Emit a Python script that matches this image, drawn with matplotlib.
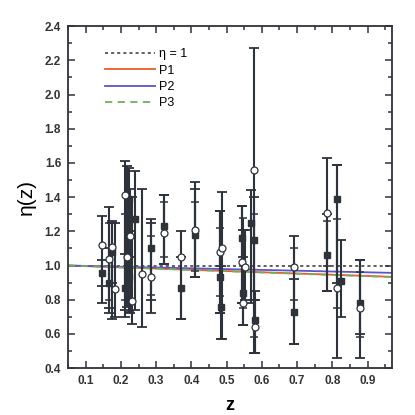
import matplotlib
matplotlib.use("Agg")
import matplotlib.pyplot as plt
from matplotlib.ticker import MultipleLocator
import numpy as np

# ── data ────────────────────────────────────────────────────────────────────
# open circles: z, eta, lower end, upper end of bar
circ_z  = [0.145, 0.166, 0.174, 0.182, 0.211, 0.218, 0.225, 0.232, 0.260, 0.285,
           0.321, 0.370, 0.410, 0.481, 0.486, 0.543, 0.547, 0.553, 0.578, 0.580,
           0.690, 0.785, 0.812, 0.880]
circ_v  = [1.12, 1.04, 1.11, 0.86, 1.41, 1.05, 1.17, 0.79, 0.95, 0.93,
           1.19, 1.05, 1.21, 1.08, 1.10, 1.02, 0.78, 0.99, 1.56, 0.64,
           0.99, 1.31, 0.87, 0.75]
circ_lo = [0.78, 0.72, 0.69, 0.70, 0.74, 0.76, 0.72, 0.66, 0.64, 0.72,
           1.01, 0.69, 0.93, 0.72, 0.57, 0.78, 0.65, 0.80, 0.49, 0.49,
           0.54, 0.85, 0.46, 0.46]
circ_hi = [1.29, 1.34, 1.26, 1.25, 1.61, 1.58, 1.45, 1.40, 1.45, 1.27,
           1.41, 1.20, 1.49, 1.32, 1.43, 1.35, 1.21, 1.21, 2.27, 0.80,
           1.17, 1.63, 1.59, 1.03]

# filled squares
sq_z  = [0.145, 0.167, 0.175, 0.213, 0.222, 0.224, 0.240, 0.285, 0.321, 0.370,
         0.410, 0.480, 0.483, 0.543, 0.547, 0.570, 0.578, 0.580, 0.690, 0.785,
         0.812, 0.825, 0.880]
sq_v  = [0.955, 0.90, 1.08, 0.87, 1.39, 0.93, 1.27, 1.10, 1.23, 0.87,
         1.18, 0.93, 0.76, 1.16, 0.84, 1.25, 1.15, 0.68, 0.73, 1.06,
         1.39, 0.91, 0.78]
sq_lo = [0.88, 0.75, 0.90, 0.70, 1.05, 0.73, 0.74, 0.80, 1.01, 0.69,
         0.93, 0.72, 0.57, 0.78, 0.65, 0.78, 0.80, 0.49, 0.54, 0.85,
         0.90, 0.70, 0.60]
sq_hi = [1.03, 1.10, 1.25, 1.07, 1.57, 1.20, 1.55, 1.25, 1.41, 1.05,
         1.45, 1.32, 1.00, 1.35, 1.05, 1.44, 1.40, 0.85, 0.92, 1.30,
         1.59, 1.15, 1.03]

# inner (statistical) error caps
inner_z  = [0.166, 0.213, 0.224, 0.285, 0.321, 0.410, 0.480, 0.547, 0.578,
            0.690, 0.785, 0.812, 0.880]
inner_lo = [0.80, 0.80, 0.82, 0.83, 1.05, 0.97, 0.82, 0.75, 0.58,
            0.80, 1.00, 0.75, 0.58]
inner_hi = [1.25, 1.30, 1.40, 1.17, 1.37, 1.37, 1.22, 1.28, 1.30,
            1.10, 1.26, 1.27, 0.96]

# model lines (end points)
line_z = [0.05, 0.97]
eta1   = [1.0, 1.0]
p1     = [1.0, 0.934]
p2     = [1.0, 0.957]
p3     = [1.0, 0.932]

# ── figure ──────────────────────────────────────────────────────────────────
plt.rcParams["font.family"] = ["Liberation Sans", "DejaVu Sans"]
fig = plt.figure(figsize=(4.15, 4.15), dpi=100)
ax = fig.add_axes([0.164, 0.113, 0.781, 0.824])

dark = "#2e323b"

def draw(z, v, lo, hi, **kw):
    z = np.array(z); v = np.array(v)
    err = [v - np.array(lo), np.array(hi) - v]
    ax.errorbar(z, v, yerr=err, fmt="none", ecolor=dark, elinewidth=1.5,
                capsize=3.4, capthick=1.3, zorder=3)
    ax.plot(z, v, linestyle="none", zorder=4, **kw)

draw(sq_z, sq_v, sq_lo, sq_hi, marker="s", ms=3.8, mfc=dark, mec=dark)
draw(circ_z, circ_v, circ_lo, circ_hi, marker="o", ms=5, mfc="white",
     mec=dark, mew=0.9)

# inner caps
mid = (np.array(inner_lo) + np.array(inner_hi)) / 2
ax.errorbar(inner_z, mid, yerr=[mid - np.array(inner_lo), np.array(inner_hi) - mid],
            fmt="none", ecolor=dark, elinewidth=1.5, capsize=3.0, capthick=1.1,
            zorder=3)

ax.plot(line_z, eta1, color="#333333", ls=(0, (2, 2)), lw=1.1,
        label="η = 1", zorder=2)
ax.plot(line_z, p1, color="#f05a28", lw=1.3, label="P1", zorder=2)
ax.plot(line_z, p2, color="#5a55c8", lw=1.3, label="P2", zorder=2)
ax.plot(line_z, p3, color="#70b060", lw=1.3, ls=(0, (4, 3)), label="P3",
        zorder=2)

ax.set_xlim(0.05, 0.97)
ax.set_ylim(0.4, 2.4)
ax.xaxis.set_major_locator(MultipleLocator(0.1))
ax.xaxis.set_minor_locator(MultipleLocator(0.05))
ax.yaxis.set_major_locator(MultipleLocator(0.2))
ax.yaxis.set_minor_locator(MultipleLocator(0.1))
ax.tick_params(which="both", direction="in", top=True, right=True,
               colors=dark, labelcolor="#333333", width=1.1)
ax.tick_params(which="major", length=5, labelsize=8.5, pad=5)
ax.tick_params(which="minor", length=3)
ax.set_xticks(np.arange(0.1, 0.95, 0.1))
ax.set_xticklabels([f"{t:.1f}" for t in np.arange(0.1, 0.95, 0.1)])
for lbl in ax.get_xticklabels() + ax.get_yticklabels():
    lbl.set_fontweight("bold")
for s in ax.spines.values():
    s.set_color(dark)
    s.set_linewidth(1.3)

ax.set_xlabel("z", fontsize=13, fontweight="bold", labelpad=7)
ax.set_ylabel("η(z)", fontsize=15, labelpad=6)

ax.legend(loc="upper left", bbox_to_anchor=(0.1, 0.95), frameon=False,
          fontsize=9, handlelength=4, handletextpad=0.3, labelspacing=0.35,
          borderaxespad=0)

fig.savefig("out.png", dpi=100)
